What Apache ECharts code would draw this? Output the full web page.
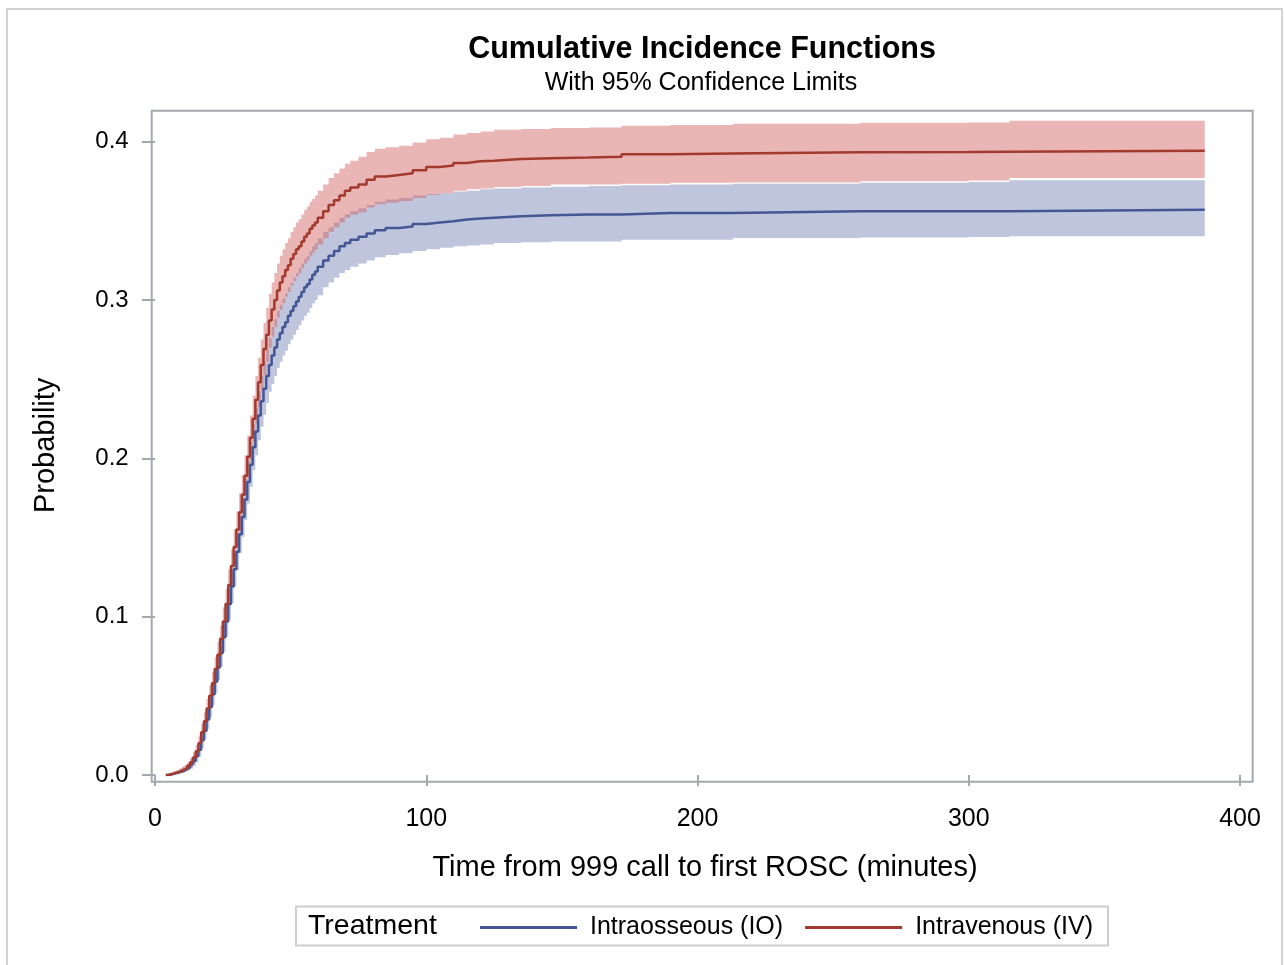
<!DOCTYPE html>
<html>
<head>
<meta charset="utf-8">
<script src="https://cdn.jsdelivr.net/npm/echarts@6/dist/echarts.min.js"></script>
<style>
html,body{margin:0;padding:0;background:#fff;}
#chart{width:1285px;height:965px;}
</style>
</head>
<body>
<div id="chart"></div>
<script>
// Time grid (minutes) on which the curves were read
const times = [4,5,6,7,8,9,10,11,12,13,14,15,16,17,18,19,20,21,22,23,24,25,26,27,28,29,30,31,32,33,34,35,36,37,38,39,40,41,42,43,44,45,46,47,48,49,50,51,52,53,54,55,56,57,58,59,60,62,64,66,68,70,72,75,78,81,85,90,95,100,105,110,115,120,125,135,146,160,172,190,213,260,300,315,387];

// Intraosseous (IO)
const ioCIF = [0,0.0003,0.0007,0.0012,0.0017,0.0023,0.003,0.004,0.005,0.007,0.009,0.012,0.016,0.022,0.028,0.035,0.043,0.051,0.059,0.068,0.077,0.087,0.097,0.108,0.119,0.130,0.141,0.152,0.163,0.174,0.185,0.196,0.207,0.217,0.227,0.236,0.244,0.252,0.259,0.265,0.270,0.275,0.279,0.283,0.286,0.290,0.293,0.296,0.299,0.302,0.305,0.308,0.310,0.313,0.316,0.318,0.321,0.325,0.328,0.331,0.334,0.336,0.338,0.340,0.342,0.344,0.3455,0.3465,0.348,0.349,0.3497,0.3508,0.3515,0.352,0.3529,0.3535,0.354,0.354,0.355,0.355,0.356,0.356,0.356,0.357,0.357];
const ioLower = [0,0,0.0002,0.0004,0.0007,0.001,0.0013,0.002,0.0027,0.004,0.0055,0.008,0.0115,0.017,0.0225,0.029,0.0365,0.044,0.0515,0.060,0.0685,0.078,0.0875,0.098,0.1085,0.119,0.1295,0.140,0.1505,0.161,0.1715,0.182,0.1925,0.202,0.2115,0.220,0.2275,0.235,0.242,0.247,0.252,0.257,0.261,0.265,0.268,0.272,0.275,0.278,0.281,0.284,0.287,0.290,0.292,0.295,0.298,0.300,0.303,0.308,0.311,0.314,0.317,0.319,0.321,0.323,0.325,0.327,0.3285,0.3295,0.331,0.332,0.333,0.334,0.3345,0.335,0.336,0.3365,0.337,0.337,0.338,0.338,0.3392,0.3395,0.3398,0.3403,0.3403];
const ioUpper = [0,0.0008,0.0013,0.002,0.0028,0.0037,0.0047,0.006,0.0073,0.010,0.0125,0.016,0.0205,0.027,0.0335,0.041,0.0495,0.058,0.0665,0.076,0.0855,0.096,0.1065,0.118,0.1295,0.141,0.1525,0.164,0.1755,0.187,0.1985,0.210,0.2215,0.232,0.2425,0.252,0.2605,0.269,0.276,0.283,0.288,0.293,0.297,0.301,0.304,0.308,0.311,0.314,0.317,0.320,0.323,0.326,0.328,0.331,0.334,0.336,0.339,0.343,0.346,0.349,0.352,0.354,0.356,0.358,0.360,0.362,0.3635,0.3645,0.366,0.367,0.3675,0.3685,0.369,0.370,0.3705,0.371,0.3715,0.372,0.3725,0.373,0.3735,0.374,0.3745,0.3756,0.3756];

// Intravenous (IV)
const ivCIF = [0,0.0005,0.001,0.0015,0.002,0.0027,0.0035,0.0045,0.006,0.008,0.011,0.015,0.020,0.027,0.034,0.042,0.050,0.058,0.067,0.076,0.086,0.097,0.108,0.120,0.132,0.144,0.155,0.166,0.177,0.189,0.201,0.213,0.225,0.237,0.248,0.259,0.269,0.278,0.287,0.294,0.300,0.306,0.311,0.315,0.319,0.322,0.326,0.329,0.332,0.334,0.337,0.340,0.342,0.345,0.347,0.349,0.352,0.356,0.360,0.363,0.366,0.369,0.371,0.373,0.376,0.378,0.379,0.380,0.382,0.384,0.385,0.3865,0.3876,0.388,0.389,0.3895,0.390,0.3905,0.392,0.3925,0.3933,0.3935,0.3937,0.3943,0.3943];
const ivLower = [0,0,0.0003,0.0005,0.0008,0.0012,0.0017,0.0025,0.0035,0.005,0.0075,0.011,0.0155,0.022,0.0285,0.036,0.0435,0.051,0.0595,0.068,0.0775,0.088,0.0985,0.110,0.1215,0.133,0.1435,0.154,0.1645,0.176,0.1875,0.199,0.2105,0.222,0.2325,0.243,0.2525,0.261,0.270,0.277,0.283,0.289,0.294,0.298,0.302,0.305,0.309,0.312,0.315,0.317,0.320,0.323,0.325,0.328,0.330,0.332,0.335,0.339,0.343,0.346,0.349,0.352,0.354,0.3555,0.3585,0.3605,0.3615,0.3625,0.3645,0.3665,0.3675,0.369,0.370,0.3705,0.3714,0.372,0.3729,0.373,0.3735,0.374,0.3743,0.375,0.3755,0.3771,0.3771];
const ivUpper = [0,0.001,0.0017,0.0025,0.0032,0.0042,0.0053,0.0065,0.0085,0.011,0.0145,0.019,0.0245,0.032,0.0395,0.048,0.0565,0.065,0.0745,0.084,0.0945,0.106,0.1175,0.130,0.1425,0.155,0.1665,0.178,0.1895,0.202,0.2145,0.227,0.2395,0.252,0.2635,0.275,0.2855,0.295,0.304,0.311,0.317,0.323,0.328,0.332,0.336,0.339,0.343,0.346,0.349,0.351,0.354,0.357,0.359,0.362,0.364,0.366,0.369,0.373,0.377,0.380,0.383,0.386,0.388,0.3905,0.3935,0.3955,0.3965,0.3975,0.3995,0.4015,0.4025,0.4045,0.4055,0.4065,0.4075,0.408,0.4086,0.409,0.410,0.4105,0.4114,0.412,0.4122,0.4132,0.4132];

const xTicks = {min: 0, max: 400, interval: 100};
const yTicks = {min: 0, max: 0.4, interval: 0.1};
const groupNames = ['Intraosseous (IO)', 'Intravenous (IV)'];

const FONT = 'Liberation Sans, Arial, sans-serif';
const C_IO = '#445694', C_IO_FILL = 'rgba(111,126,179,0.45)';
const C_IV = '#A23A2E', C_IV_FILL = 'rgba(208,91,91,0.45)';
const FRAME = '#A4A9AE';

function pairs(ys) { return times.map((t, i) => [t, ys[i]]); }

function bandSeries(lower, upper, fill) {
  return {
    type: 'custom',
    silent: true,
    data: [[times[0], lower[0]]],
    encode: {x: 0, y: 1},
    z: 1,
    renderItem: function (params, api) {
      if (params.dataIndex !== 0) return null;
      const pts = [];
      const n = times.length;
      for (let i = 0; i < n; i++) {
        pts.push(api.coord([times[i], upper[i]]));
        if (i < n - 1) pts.push(api.coord([times[i + 1], upper[i]]));
      }
      for (let i = n - 1; i >= 0; i--) {
        if (i < n - 1) pts.push(api.coord([times[i + 1], lower[i]]));
        pts.push(api.coord([times[i], lower[i]]));
      }
      return {type: 'polygon', shape: {points: pts}, style: {fill: fill, stroke: null}};
    }
  };
}

const chart = echarts.init(document.getElementById('chart'), null, {renderer: 'canvas'});
chart.setOption({
  animation: false,
  backgroundColor: '#ffffff',
  textStyle: {fontFamily: FONT},
  grid: {left: 155, right: 45, top: 141.7, height: 633.3, containLabel: false},
  xAxis: {
    type: 'value', min: xTicks.min, max: xTicks.max, interval: xTicks.interval,
    offset: 6.7,
    axisLine: {show: false},
    axisTick: {show: true, length: 11, lineStyle: {color: FRAME, width: 2}},
    splitLine: {show: false},
    axisLabel: {fontSize: 25, color: '#000', margin: 25, fontFamily: FONT},
    name: 'Time from 999 call to first ROSC (minutes)',
    nameLocation: 'middle', nameGap: 72,
    nameTextStyle: {fontSize: 29, color: '#000', fontFamily: FONT, padding: [0, 0, 0, 15]}
  },
  yAxis: {
    type: 'value', min: yTicks.min, max: yTicks.max, interval: yTicks.interval,
    offset: 3.3,
    axisLine: {show: false},
    axisTick: {show: true, length: 13, lineStyle: {color: FRAME, width: 2}},
    splitLine: {show: false},
    axisLabel: {fontSize: 24, color: '#000', margin: 23, fontFamily: FONT,
      formatter: v => v.toFixed(1)},
    name: 'Probability',
    nameLocation: 'middle', nameGap: 91, nameRotate: 90,
    nameTextStyle: {fontSize: 29, color: '#000', fontFamily: FONT, padding: [0, 0, 0, 26]}
  },
  legend: {
    data: groupNames,
    left: 480, top: 915, padding: 0,
    icon: 'rect', itemWidth: 97, itemHeight: 3, itemGap: 22,
    textStyle: {fontSize: 25, color: '#000', fontFamily: FONT, padding: [0, 0, 0, 8]}
  },
  graphic: [
    {type: 'rect', shape: {x: 7, y: 9, width: 1275, height: 975}, style: {fill: null, stroke: '#D3D3D3', lineWidth: 2}, silent: true, z: -10},
    {type: 'rect', shape: {x: 151.7, y: 110.7, width: 1101, height: 671}, style: {fill: null, stroke: FRAME, lineWidth: 2}, silent: true, z: 10},
    {type: 'text', x: 702, y: 50, style: {text: 'Cumulative Incidence Functions', font: 'bold 30.5px ' + FONT, fill: '#000', textAlign: 'center', textVerticalAlign: 'middle'}},
    {type: 'text', x: 701, y: 83, style: {text: 'With 95% Confidence Limits', font: '25px ' + FONT, fill: '#000', textAlign: 'center', textVerticalAlign: 'middle'}},
    {type: 'rect', shape: {x: 296, y: 906.5, width: 812, height: 39}, style: {fill: null, stroke: '#CFCFCF', lineWidth: 2}, silent: true},
    {type: 'text', x: 308, y: 926, style: {text: 'Treatment', font: '28.5px ' + FONT, fill: '#000', textAlign: 'left', textVerticalAlign: 'middle'}}
  ],
  series: [
    bandSeries(ioLower, ioUpper, C_IO_FILL),
    bandSeries(ivLower, ivUpper, C_IV_FILL),
    {name: groupNames[0], type: 'line', step: 'end', data: pairs(ioCIF), showSymbol: false, symbol: 'none',
      lineStyle: {color: C_IO, width: 2.5}, itemStyle: {color: C_IO}, z: 3},
    {name: groupNames[1], type: 'line', step: 'end', data: pairs(ivCIF), showSymbol: false, symbol: 'none',
      lineStyle: {color: C_IV, width: 2.5}, itemStyle: {color: C_IV}, z: 4}
  ]
});
</script>
</body>
</html>
